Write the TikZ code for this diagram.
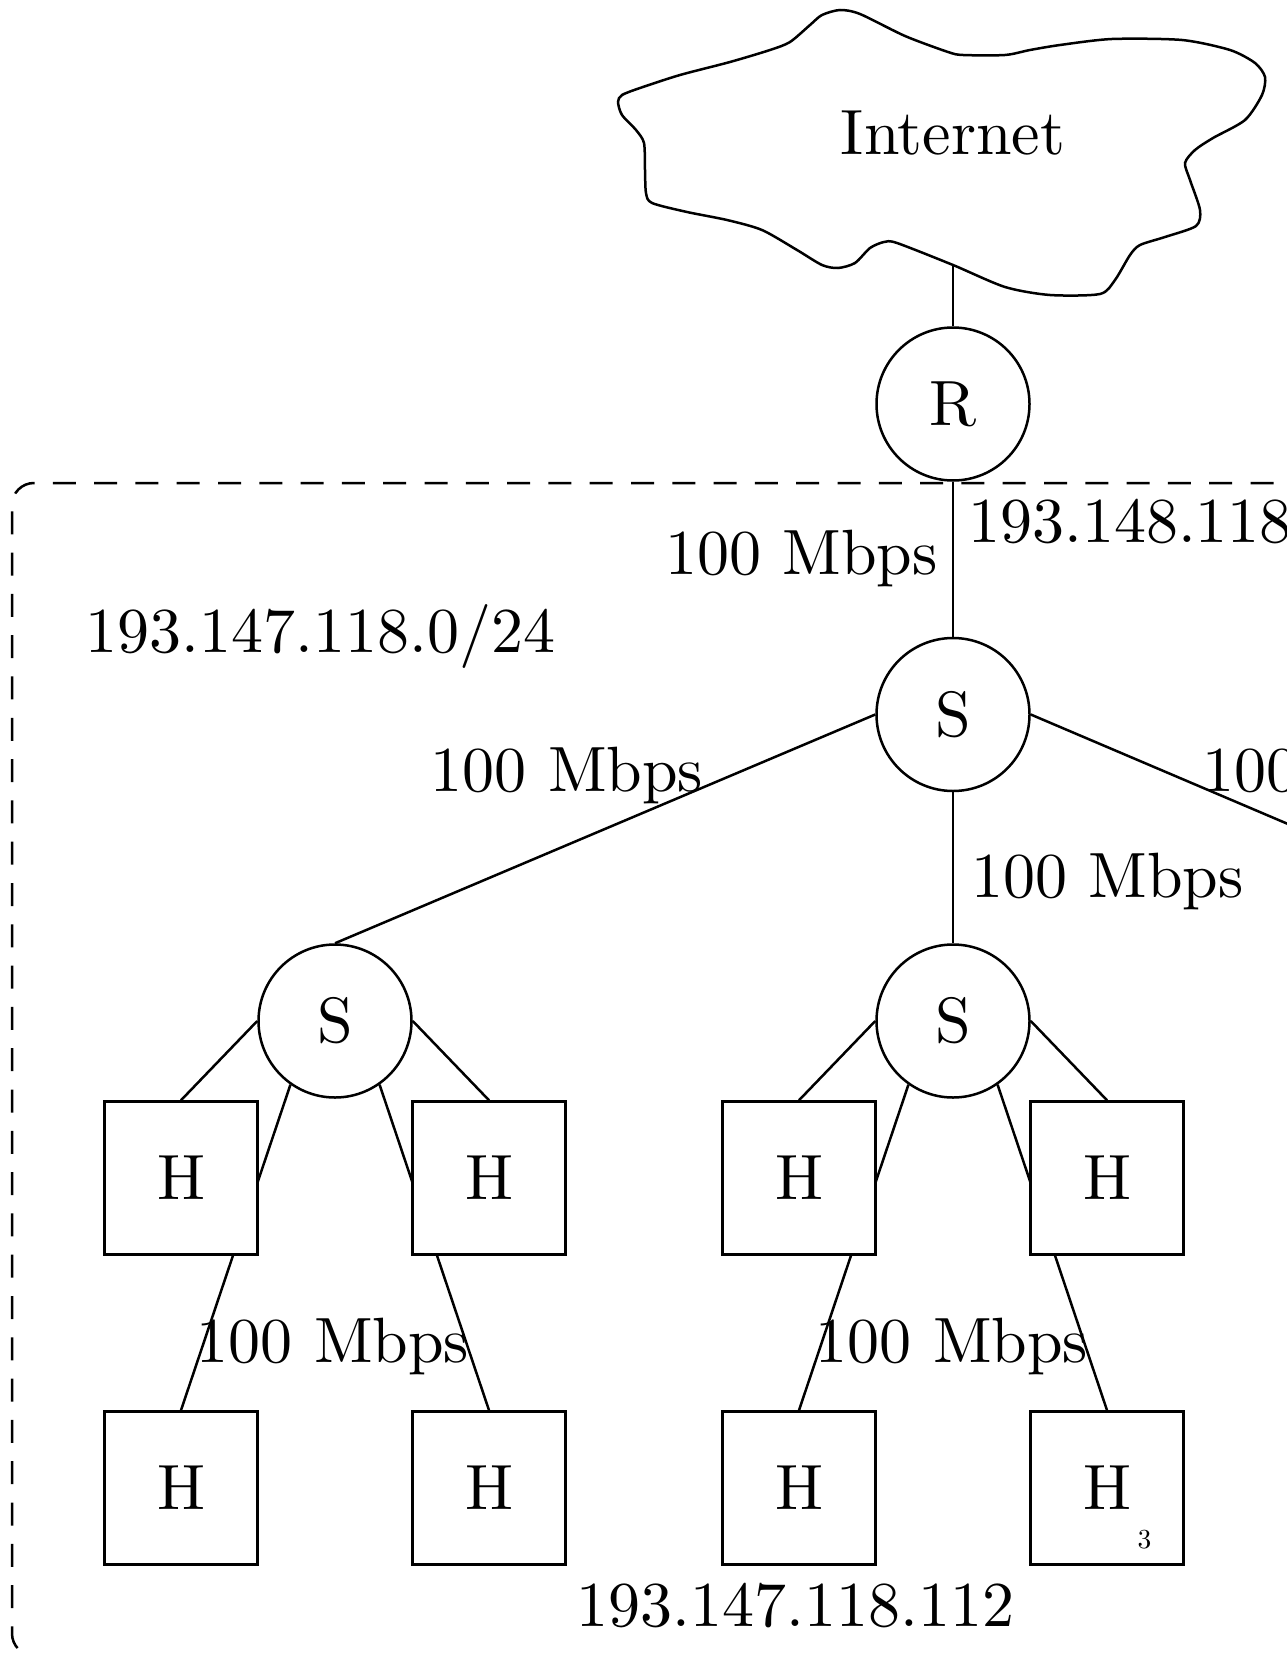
\documentclass[tikz,border=0pt]{standalone}
\usepackage{graphicx}
\pgfdeclarelayer{bg}
\pgfsetlayers{bg,main}
\newcommand\bigt[1]{\scalebox{6.4}{#1}}
\begin{document}
\begin{tikzpicture}[x=1pt,y=-1pt,line width=2.5pt,
  swnode/.style={circle,draw,fill=white,minimum size=153pt,inner sep=0pt},
  hostnode/.style={rectangle,draw,fill=white,minimum size=153pt,inner sep=0pt},
  lab/.style={inner sep=0pt,anchor=base},
  link/.style={line width=2.5pt},
  frame/.style={line width=2.5pt,dash pattern=on 23pt off 18.3pt,rounded corners=22pt}]
\useasboundingbox (0,0) rectangle (1286,1653);
\clip (0,0) rectangle (1286,1653);

% cloud
\draw[line width=2.5pt] plot[smooth cycle,tension=0.45] coordinates {
(618,102) (622,115) (636,130) (644,143) (645,170) (646,193) (652,203) (687,212)
(727,220) (762,230) (797,250) (822,265) (838,268) (855,263) (870,248) (884,242)
(897,243) (953,265) (1005,287) (1050,295) (1100,294) (1115,280) (1130,255)
(1140,245) (1165,237) (1196,226) (1200,210) (1190,180) (1185,163) (1195,150)
(1213,138) (1245,120) (1262,95) (1265,77) (1255,63) (1230,50) (1182,40)
(1112,39) (1060,45) (1030,50) (1005,55) (963,55) (948,52) (905,36) (860,14)
(840,10) (822,15) (810,25) (790,42) (770,50) (730,62) (680,75) (640,88) (622,95)};
\node[lab] (inet) at (953,155) {\bigt{Internet}};
\coordinate (cb) at (953,265);

% nodes
\node[swnode] (r) at (953,404) {\bigt{R}};
\node[swnode] (s0) at (953,714.5) {\bigt{S}};
\node[swnode] (s1) at (335,1021) {\bigt{S}};
\node[swnode] (s2) at (953,1021) {\bigt{S}};
\coordinate (s3) at (1571,944.5);

\node[hostnode] (h1) at (181,1178) {\bigt{H}};
\node[hostnode] (h2) at (489,1178) {\bigt{H}};
\node[hostnode] (h3) at (799,1178) {\bigt{H}};
\node[hostnode] (h4) at (1107,1178) {\bigt{H}};
\node[hostnode] (h5) at (181,1488) {\bigt{H}};
\node[hostnode] (h6) at (489,1488) {\bigt{H}};
\node[hostnode] (h7) at (799,1488) {\bigt{H}};
\node[hostnode] (h8) at (1107,1488) {\bigt{H}};

% labels
\node[lab] (l1) at (801.5,574) {\bigt{100 Mbps}};
\node[lab,anchor=base west] (n2) at (967,542) {\bigt{193.148.118.0/24}};
\node[lab] (n1) at (320.5,652) {\bigt{193.147.118.0/24}};
\node[lab] (l2) at (567,791) {\bigt{100 Mbps}};
\node[lab] (l3) at (1339,791) {\bigt{100 Mbps}};
\node[lab] (l4) at (1107.5,897) {\bigt{100 Mbps}};
\node[lab] (l5) at (333,1362) {\bigt{100 Mbps}};
\node[lab] (l6) at (952,1362) {\bigt{100 Mbps}};
\node[lab] (n3) at (795.5,1626) {\bigt{193.147.118.112}};
\node[lab] (pg) at (1144.5,1548) {\scalebox{2.75}{3}};

\begin{pgfonlayer}{bg}
\draw[frame] (1314.8,483) -- (12,483) -- (12,1655.5) -- (1400,1655.5);
\draw[link] (r.north) -- (cb);
\draw[link] (r) -- (s0);
\draw[link] (s0.west) -- (s1.north);
\draw[link] (s0.east) -- (s3);
\draw[link] (s0.south) -- (s2.north);
\draw[link] (s1.west) -- (h1.north);
\draw[link] (s1.235) -- (h5.north);
\draw[link] (s1.305) -- (h6.north);
\draw[link] (s1.east) -- (h2.north);
\draw[link] (s2.west) -- (h3.north);
\draw[link] (s2.235) -- (h7.north);
\draw[link] (s2.305) -- (h8.north);
\draw[link] (s2.east) -- (h4.north);
\end{pgfonlayer}
\end{tikzpicture}
\end{document}
